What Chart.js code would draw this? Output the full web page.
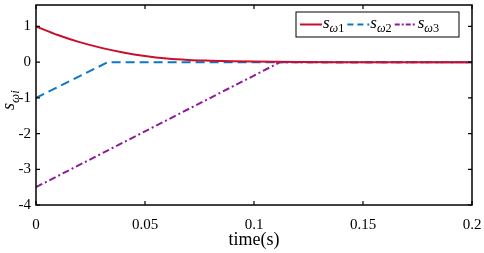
<!DOCTYPE html>
<html>
<head>
<meta charset="utf-8">
<script src="https://cdn.jsdelivr.net/npm/chart.js@4"></script>
<style>
  html,body{margin:0;padding:0;background:#fff}
  #wrap{width:484px;height:253px;position:relative}
</style>
</head>
<body>
<div id="wrap"><canvas id="c"></canvas></div>
<script>
// ── Data ────────────────────────────────────────────────────
const t1  = [0, 0.01, 0.02, 0.03, 0.04, 0.05, 0.06, 0.07, 0.08, 0.09, 0.1, 0.12, 0.14, 0.2];
const sw1 = [1, 0.76, 0.56, 0.40, 0.27, 0.17, 0.10, 0.06, 0.04, 0.025, 0.015, 0.005, 0, 0];
const t2  = [0, 0.033, 0.2];
const sw2 = [-1, 0, 0];
const t3  = [0, 0.112, 0.2];
const sw3 = [-3.5, 0, 0];
const xTicks = [0, 0.05, 0.1, 0.15, 0.2];
const yTicks = [1, 0, -1, -2, -3, -4];
const names  = ['1', '2', '3'];

const C = { red:'#c8102e', blue:'#0a78c8', purple:'#8e1a9a', ink:'#000' };
const SERIF = '"Liberation Serif", "DejaVu Serif", serif';

const pts = (xs, ys) => xs.map((x, i) => ({ x, y: ys[i] }));

// s_{ω n} drawn as italic s with smaller subscript
function drawSub(ctx, x, y, sub, size) {
  ctx.font = `italic ${size}px ${SERIF}`;
  ctx.textBaseline = 'alphabetic';
  ctx.textAlign = 'left';
  ctx.fillText('s', x, y);
  const w = ctx.measureText('s').width;
  ctx.font = `italic ${size * 0.72}px ${SERIF}`;
  ctx.fillText('ω', x + w, y + size * 0.25);
  const w2 = ctx.measureText('ω').width;
  ctx.font = `${size * 0.72}px ${SERIF}`;
  if (sub === 'i') ctx.font = `italic ${size * 0.72}px ${SERIF}`;
  ctx.fillText(sub, x + w + w2, y + size * 0.25);
  return w + w2 + ctx.measureText(sub).width;
}

const boxPlugin = {
  id: 'box',
  afterDraw(chart) {
    const { ctx, chartArea: a, scales } = chart;
    ctx.save();
    ctx.strokeStyle = C.ink;
    ctx.lineWidth = 1.5;
    ctx.strokeRect(a.left, a.top, a.right - a.left, a.bottom - a.top);
    // inward ticks on all four sides
    ctx.lineWidth = 1.2;
    const L = 4;
    xTicks.forEach(v => {
      const px = scales.x.getPixelForValue(v);
      ctx.beginPath();
      ctx.moveTo(px, a.bottom); ctx.lineTo(px, a.bottom - L);
      ctx.moveTo(px, a.top);    ctx.lineTo(px, a.top + L);
      ctx.stroke();
    });
    yTicks.forEach(v => {
      const py = scales.y.getPixelForValue(v);
      ctx.beginPath();
      ctx.moveTo(a.left, py);  ctx.lineTo(a.left + L, py);
      ctx.moveTo(a.right, py); ctx.lineTo(a.right - L, py);
      ctx.stroke();
    });

    // y-axis title s_{ωi}
    ctx.fillStyle = C.ink;
    ctx.save();
    ctx.translate(14, 110);
    ctx.rotate(-Math.PI / 2);
    drawSub(ctx, 0, 0, 'i', 18);
    ctx.restore();

    // legend
    const lx = 296, ly = 12, lw = 163, lh = 25;
    ctx.fillStyle = '#fff';
    ctx.fillRect(lx, ly, lw, lh);
    ctx.strokeStyle = C.ink;
    ctx.lineWidth = 1;
    ctx.strokeRect(lx, ly, lw, lh);
    const cols = [C.red, C.blue, C.purple];
    const dashes = [[], [6, 4], [5, 2, 2, 2]];
    let x = lx + 4;
    chart.data.datasets.forEach((ds, i) => {
      ctx.strokeStyle = cols[i];
      ctx.lineWidth = 2;
      ctx.setLineDash(dashes[i]);
      ctx.beginPath();
      ctx.moveTo(x, ly + lh / 2); ctx.lineTo(x + 22, ly + lh / 2);
      ctx.stroke();
      ctx.setLineDash([]);
      ctx.fillStyle = C.ink;
      const w = drawSub(ctx, x + 23, ly + lh / 2 + 3, names[i], 17);
      x += 23 + w + 3;
    });
    ctx.restore();
  }
};

new Chart(document.getElementById('c'), {
  type: 'line',
  data: {
    datasets: [
      { label: 'sω1', data: pts(t1, sw1), borderColor: C.red, borderWidth: 2, pointRadius: 0, cubicInterpolationMode: 'monotone' },
      { label: 'sω2', data: pts(t2, sw2), borderColor: C.blue, borderWidth: 2, pointRadius: 0, borderDash: [9, 5] },
      { label: 'sω3', data: pts(t3, sw3), borderColor: C.purple, borderWidth: 2, pointRadius: 0, borderDash: [7, 3, 2, 3] },
    ]
  },
  options: {
    responsive: true, maintainAspectRatio: false, animation: false,
    layout: { padding: { top: 5, right: 12, left: 0, bottom: 0 } },
    plugins: { legend: { display: false }, tooltip: { enabled: false } },
    scales: {
      x: {
        type: 'linear', min: 0, max: 0.2,
        afterBuildTicks: s => { s.ticks = xTicks.map(v => ({ value: v })); },
        afterFit: s => { s.height = 48; s.paddingLeft = 0; s.paddingRight = 0; },
        grid: { display: false }, border: { display: false },
        ticks: { color: C.ink, font: { family: SERIF, size: 15 }, padding: 3, maxRotation: 0,
                 callback: v => String(v) },
        title: { display: true, text: 'time(s)', color: C.ink, font: { family: SERIF, size: 18 }, padding: { top: 0, bottom: 2 } }
      },
      y: {
        min: -4, max: 1.6,
        afterBuildTicks: s => { s.ticks = yTicks.map(v => ({ value: v })); },
        afterFit: s => { s.width = 36; s.paddingTop = 0; s.paddingBottom = 0; },
        grid: { display: false, drawTicks: false }, border: { display: false },
        ticks: { color: C.ink, font: { family: SERIF, size: 15 }, padding: 5 }
      }
    }
  },
  plugins: [boxPlugin]
});
</script>
</body>
</html>
